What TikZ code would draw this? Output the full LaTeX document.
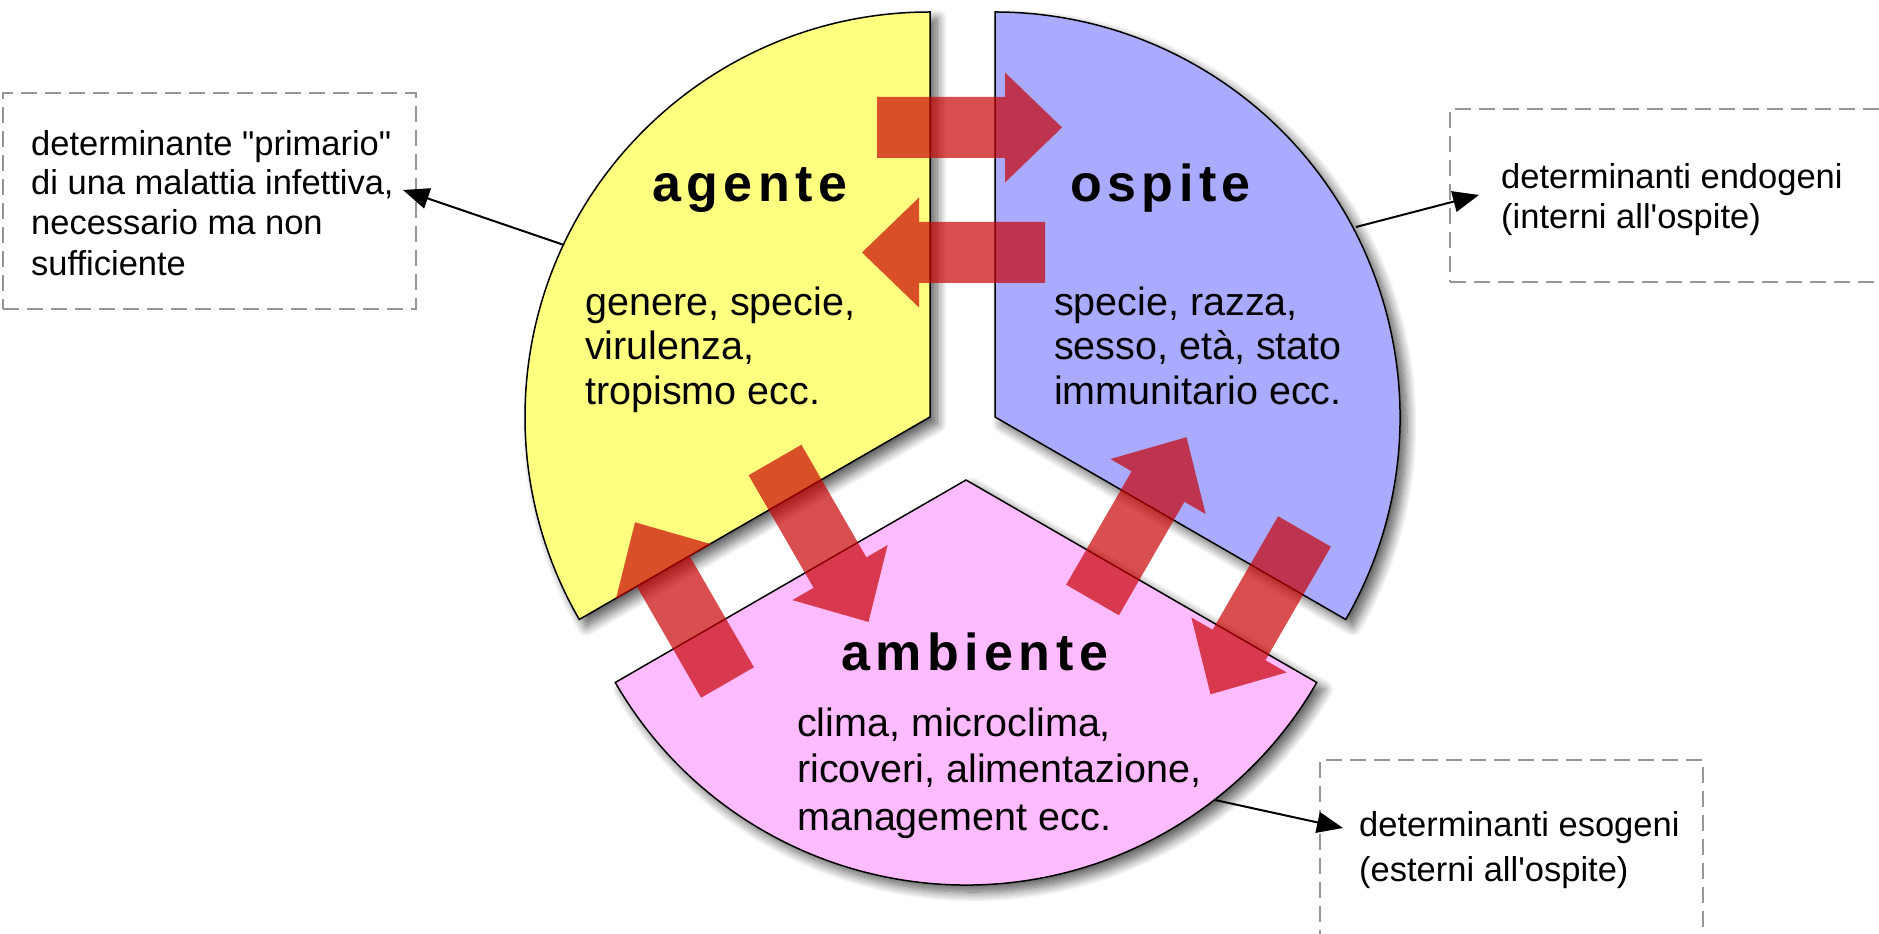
\documentclass[tikz,border=0pt]{standalone}
\usepackage{fontspec}
\setmainfont{Liberation Sans}[Ligatures=TeXOff]
\usetikzlibrary{shadows.blur,arrows.meta}
\definecolor{agcol}{RGB}{255,255,128}
\definecolor{oscol}{RGB}{170,170,255}
\definecolor{amcol}{RGB}{255,187,255}
\definecolor{arrcol}{RGB}{200,0,0}
\definecolor{boxgray}{RGB}{150,150,150}
\newcommand\bigarrow[3]{\fill[blockarrow, shift={(#1)}, rotate=#2] (0,-30.5) -- ({#3-57},-30.5) -- ({#3-57},-55) -- (#3,0) -- ({#3-57},55) -- ({#3-57},30.5) -- (0,30.5) -- cycle;}
\newcommand\lsp[1]{#1\kern5.5pt}
\begin{document}
\begin{tikzpicture}[x=1pt,y=1pt,
  sector/.style={draw=black, line width=1.5pt, line join=miter, blur shadow={shadow xshift=7pt, shadow yshift=-7pt, shadow blur radius=10pt, shadow blur steps=12, shadow opacity=65}},
  blockarrow/.style={fill=arrcol, fill opacity=0.69},
  callbox/.style={draw=boxgray, line width=2pt, dash pattern=on 16pt off 8pt, inner sep=0pt},
  callline/.style={draw=black, line width=2pt, -{Triangle[length=26pt,width=21pt]}},
  title/.style={font=\fontsize{52}{60}\selectfont\bfseries, anchor=base west, inner sep=0pt},
  body/.style={font=\fontsize{39.5}{45}\selectfont, anchor=base west, inner sep=0pt},
  note/.style={font=\fontsize{34.5}{40}\selectfont, anchor=base west, inner sep=0pt},
]
\useasboundingbox (0,0) rectangle (1879,934);
\clip (0,0) rectangle (1879,934);
% callout boxes
\node[callbox, minimum width=413pt, minimum height=216pt] (boxL) at (209.5,733) {};
\node[callbox, minimum width=500pt, minimum height=173pt] (boxR) at (1700,738.5) {};
\node[callbox, minimum width=383pt, minimum height=240pt] (boxB) at (1511.5,54) {};
% sectors
\path[sector, fill=agcol] (930,517) -- ++(90:405) arc[start angle=90, end angle=210, radius=405] -- cycle;
\path[sector, fill=oscol] (995,517) -- ++(-30:405) arc[start angle=-30, end angle=90, radius=405] -- cycle;
\path[sector, fill=amcol] (966,454) -- ++(210:405) arc[start angle=210, end angle=330, radius=405] -- cycle;
% block arrows
\bigarrow{877,806.5}{0}{185}
\bigarrow{1045,681.5}{180}{183}
\bigarrow{775,474}{-60}{187}
\bigarrow{727.5,251.5}{120}{185}
\bigarrow{1092.5,334}{60}{188}
\bigarrow{1304.5,402.5}{240}{188}
% titles
\node[title] (tAg) at (652,732) {\lsp{a}\lsp{g}\lsp{e}\lsp{n}\lsp{t}e};
\node[title] (tOs) at (1070,732) {\lsp{o}\lsp{s}\lsp{p}\lsp{i}\lsp{t}e};
\node[title] (tAm) at (841,263) {\lsp{a}\lsp{m}\lsp{b}\lsp{i}\lsp{e}\lsp{n}\lsp{t}e};
% body texts
\node[body] (ag1) at (585,618) {genere, specie,};
\node[body] (ag2) at (585,574) {virulenza,};
\node[body] (ag3) at (585,529) {tropismo ecc.};
\node[body] (os1) at (1054,618) {specie, razza,};
\node[body] (os2) at (1054,574) {sesso, età, stato};
\node[body] (os3) at (1054,529) {immunitario ecc.};
\node[body] (am1) at (797,197) {clima, microclima,};
\node[body] (am2) at (797,151) {ricoveri, alimentazione,};
\node[body] (am3) at (797,103) {management ecc.};
% notes
\node[note] (nL1) at (31,778) {determinante "primario"};
\node[note] (nL2) at (31,739) {di una malattia infettiva,};
\node[note] (nL3) at (31,699) {necessario ma non};
\node[note] (nL4) at (31,658) {sufficiente};
\node[note] (nR1) at (1501,745) {determinanti endogeni};
\node[note] (nR2) at (1501,705) {(interni all'ospite)};
\node[note] (nB1) at (1359,97) {determinanti esogeni};
\node[note] (nB2) at (1359,52) {(esterni all'ospite)};
% connectors
\coordinate (lS) at (564,689); \coordinate (lT) at (403,744);
\coordinate (rS) at (1356,707); \coordinate (rT) at (1479,739);
\coordinate (bS) at (1215,134); \coordinate (bT) at (1343,106);
\draw[callline] (lS) -- (lT);
\draw[callline] (rS) -- (rT);
\draw[callline] (bS) -- (bT);
\end{tikzpicture}
\end{document}
